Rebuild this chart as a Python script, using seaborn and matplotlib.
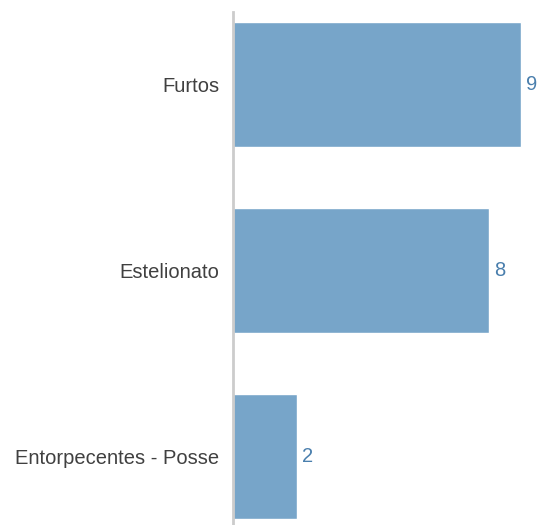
import matplotlib
matplotlib.use('Agg')
import matplotlib.pyplot as plt
import seaborn as sns
import pandas as pd

# Data
categorias = ['Furtos', 'Estelionato', 'Entorpecentes - Posse']
quantidades = [9, 8, 2]

df = pd.DataFrame({'categoria': categorias, 'quantidade': quantidades})

sns.set_style('white')
plt.rcParams['font.family'] = ['Liberation Sans', 'DejaVu Sans']

fig = plt.figure(figsize=(5.38, 5.25), dpi=100)
ax = fig.add_axes([233 / 538, 0, 1 - 233 / 538, 1 - 12 / 525])

sns.barplot(data=df, x='quantidade', y='categoria', orient='h',
            color='#77a5c9', saturation=1, width=0.672, ax=ax)

# value labels at the end of each bar
for c in ax.containers:
    ax.bar_label(c, labels=[str(v) for v in quantidades], padding=3.5,
                 fontsize=14.5, color='#4a7fad')

ax.set_xlim(0, (538 - 233) / 32)
ax.set_ylim(2.37, -0.39)
ax.set_xlabel('')
ax.set_ylabel('')
ax.set_xticks([])
ax.tick_params(axis='y', length=0, pad=10, labelsize=14.5, labelcolor='#404040')

for s in ['top', 'right', 'bottom']:
    ax.spines[s].set_visible(False)
ax.spines['left'].set_color('#cccccc')
ax.spines['left'].set_linewidth(2)

fig.savefig('out.png', dpi=100)
